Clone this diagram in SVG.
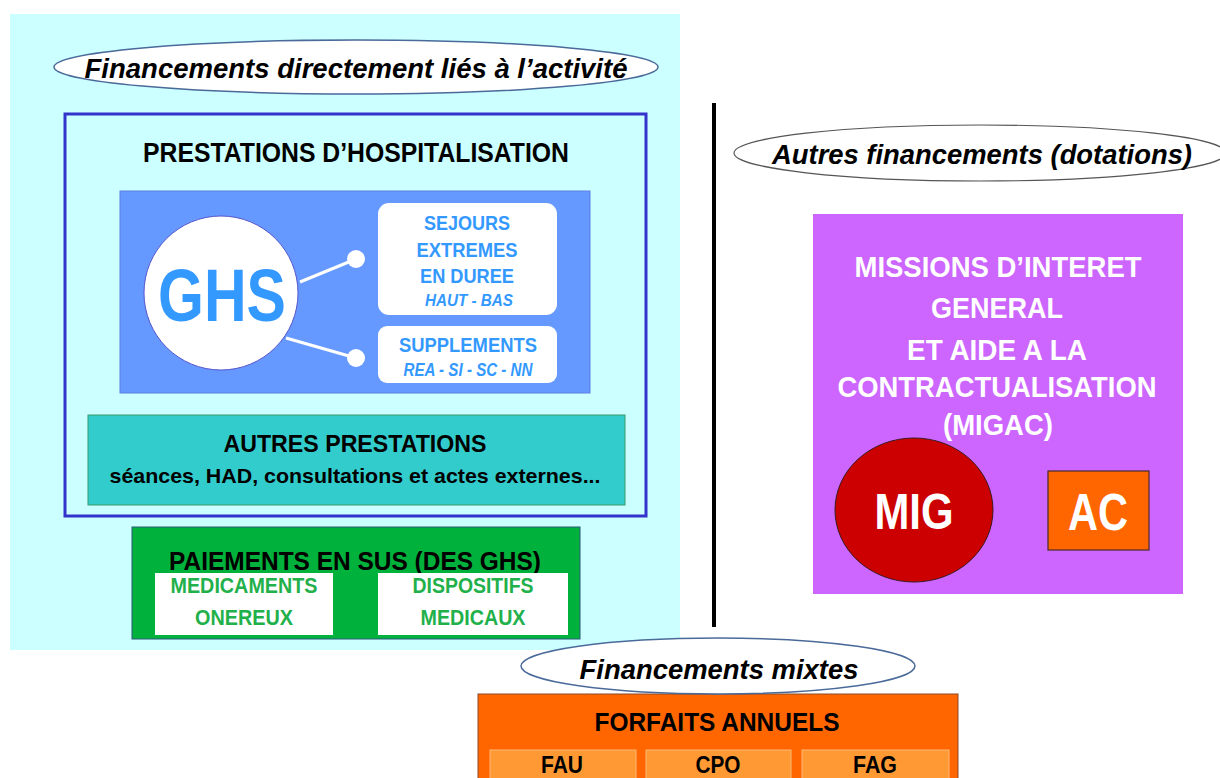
<svg xmlns="http://www.w3.org/2000/svg" width="1220" height="778" viewBox="0 0 1220 778">
<style>
text{font-family:"Liberation Sans",Arial,sans-serif;font-weight:bold;text-anchor:middle}
.it{font-style:italic}
.blk{fill:#000}
.wht{fill:#fff}
.blu{fill:#3399FF}
.grn{fill:#22B04B}
.oval{fill:#fff;stroke:#4A6A9A;stroke-width:1.5}
</style>
<rect width="1220" height="778" fill="#fff"/>
<g id="activite">
<rect x="10" y="14" width="670" height="636" fill="#CCFFFF"/>
<ellipse class="oval" cx="356" cy="67" rx="302" ry="27"/>
<text class="it blk" x="356" y="78" font-size="28" textLength="543" lengthAdjust="spacingAndGlyphs">Financements directement liés à l’activité</text>
</g>
<g id="prestations-hosp">
<rect x="65" y="114" width="581" height="402" fill="none" stroke="#3333CC" stroke-width="3"/>
<text class="blk" x="356" y="162" font-size="27" textLength="426" lengthAdjust="spacingAndGlyphs">PRESTATIONS D’HOSPITALISATION</text>
</g>
<g id="ghs-zone">
<rect x="120" y="191" width="470" height="202" fill="#6699FF" stroke="#5A7FE0" stroke-width="1"/>
</g>
<g id="connectors">
<line x1="300" y1="282" x2="356" y2="259" stroke="#fff" stroke-width="3"/>
<line x1="286" y1="338" x2="356" y2="358" stroke="#fff" stroke-width="3"/>
<circle cx="356" cy="259" r="9" fill="#fff"/>
<circle cx="356" cy="358" r="9" fill="#fff"/>
</g>
<g id="ghs">
<circle cx="221" cy="293" r="77" fill="#fff" stroke="#5555CC" stroke-width="1"/>
<text class="blu" x="222" y="321" font-size="74" textLength="128" lengthAdjust="spacingAndGlyphs">GHS</text>
</g>
<g id="sejours">
<rect x="378" y="203" width="179" height="112" rx="11" fill="#fff"/>
<text class="blu" x="467" y="230" font-size="21" textLength="86" lengthAdjust="spacingAndGlyphs">SEJOURS</text>
<text class="blu" x="467" y="257" font-size="21" textLength="101" lengthAdjust="spacingAndGlyphs">EXTREMES</text>
<text class="blu" x="467" y="283" font-size="21" textLength="94" lengthAdjust="spacingAndGlyphs">EN DUREE</text>
<text class="blu it" x="469" y="306" font-size="16" textLength="88" lengthAdjust="spacingAndGlyphs">HAUT - BAS</text>
</g>
<g id="supplements">
<rect x="378" y="326" width="179" height="57" rx="9" fill="#fff"/>
<text class="blu" x="468" y="352" font-size="21" textLength="138" lengthAdjust="spacingAndGlyphs">SUPPLEMENTS</text>
<text class="blu it" x="468" y="376" font-size="18" textLength="129" lengthAdjust="spacingAndGlyphs">REA - SI - SC - NN</text>
</g>
<g id="autres-prestations">
<rect x="88" y="415" width="537" height="90" fill="#33CCCC" stroke="#3A9A6A" stroke-width="1"/>
<text class="blk" x="355" y="452" font-size="23" textLength="263" lengthAdjust="spacingAndGlyphs">AUTRES PRESTATIONS</text>
<text class="blk" x="355" y="483" font-size="21" textLength="491" lengthAdjust="spacingAndGlyphs">séances, HAD, consultations et actes externes...</text>
</g>
<g id="paiements">
<rect x="132" y="527" width="448" height="112" fill="#00B13C" stroke="#2A5A7A" stroke-width="1"/>
<text class="blk" x="355" y="570" font-size="25" textLength="372" lengthAdjust="spacingAndGlyphs">PAIEMENTS EN SUS (DES GHS)</text>
</g>
<g id="medicaments">
<rect x="155" y="573" width="178" height="62" fill="#fff"/>
<text class="grn" x="244" y="593" font-size="22" textLength="147" lengthAdjust="spacingAndGlyphs">MEDICAMENTS</text>
<text class="grn" x="244" y="625" font-size="22" textLength="98" lengthAdjust="spacingAndGlyphs">ONEREUX</text>
</g>
<g id="dispositifs">
<rect x="378" y="573" width="190" height="62" fill="#fff"/>
<text class="grn" x="473" y="593" font-size="22" textLength="121" lengthAdjust="spacingAndGlyphs">DISPOSITIFS</text>
<text class="grn" x="473" y="625" font-size="22" textLength="105" lengthAdjust="spacingAndGlyphs">MEDICAUX</text>
</g>
<g id="separateur">
<line x1="714" y1="103" x2="714" y2="627" stroke="#000" stroke-width="4"/>
</g>
<g id="dotations">
<ellipse cx="980" cy="153" rx="246" ry="28" fill="#fff" stroke="#555" stroke-width="1.2"/>
<text class="it blk" x="982" y="164" font-size="28" textLength="420" lengthAdjust="spacingAndGlyphs">Autres financements (dotations)</text>
</g>
<g id="migac">
<rect x="813" y="214" width="370" height="380" fill="#CC66FF"/>
<text class="wht" x="998" y="277" font-size="30" textLength="287" lengthAdjust="spacingAndGlyphs">MISSIONS D’INTERET</text>
<text class="wht" x="997" y="318" font-size="30" textLength="132" lengthAdjust="spacingAndGlyphs">GENERAL</text>
<text class="wht" x="997" y="360" font-size="30" textLength="180" lengthAdjust="spacingAndGlyphs">ET AIDE A LA</text>
<text class="wht" x="997" y="397" font-size="30" textLength="319" lengthAdjust="spacingAndGlyphs">CONTRACTUALISATION</text>
<text class="wht" x="998" y="435" font-size="30" textLength="110" lengthAdjust="spacingAndGlyphs">(MIGAC)</text>
</g>
<g id="mig">
<ellipse cx="914" cy="510" rx="79" ry="72" fill="#CC0000" stroke="#3A1A1A" stroke-width="1"/>
<text class="wht" x="914" y="529" font-size="50" textLength="79" lengthAdjust="spacingAndGlyphs">MIG</text>
</g>
<g id="ac">
<rect x="1048" y="471" width="101" height="79" fill="#FF6600" stroke="#4A2A2A" stroke-width="1.2"/>
<text class="wht" x="1098" y="530" font-size="51" textLength="60" lengthAdjust="spacingAndGlyphs">AC</text>
</g>
<g id="mixtes">
<rect x="478" y="694" width="480" height="90" fill="#FF6600" stroke="#8A4A2A" stroke-width="1"/>
<ellipse class="oval" cx="718" cy="666" rx="197" ry="28"/>
<text class="it blk" x="719" y="679" font-size="28" textLength="279" lengthAdjust="spacingAndGlyphs">Financements mixtes</text>
<text class="blk" x="717" y="731" font-size="26" textLength="245" lengthAdjust="spacingAndGlyphs">FORFAITS ANNUELS</text>
</g>
<g id="fau">
<rect x="490" y="750" width="146" height="30" fill="#FF9933" stroke="#FFB877" stroke-width="1"/>
<text class="blk" x="562" y="773" font-size="23" textLength="42" lengthAdjust="spacingAndGlyphs">FAU</text>
</g>
<g id="cpo">
<rect x="646" y="750" width="145" height="30" fill="#FF9933" stroke="#FFB877" stroke-width="1"/>
<text class="blk" x="718" y="773" font-size="23" textLength="45" lengthAdjust="spacingAndGlyphs">CPO</text>
</g>
<g id="fag">
<rect x="802" y="750" width="147" height="30" fill="#FF9933" stroke="#FFB877" stroke-width="1"/>
<text class="blk" x="875" y="773" font-size="23" textLength="44" lengthAdjust="spacingAndGlyphs">FAG</text>
</g>
</svg>
